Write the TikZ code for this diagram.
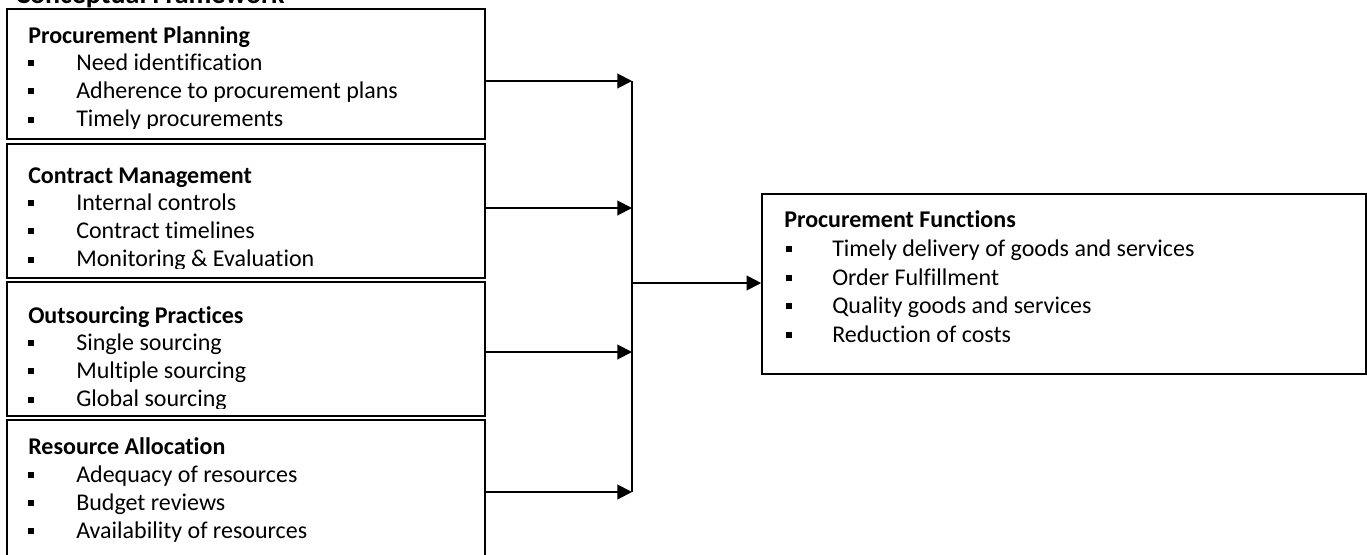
\documentclass[tikz,border=0pt]{standalone}
\usepackage{fontspec}
\setmainfont{Carlito}[Ligatures=NoCommon]
\usetikzlibrary{arrows.meta,fit}
\newcommand\bulw[1]{\makebox[#1][l]{\rule[3pt]{4.5pt}{4.5pt}}}
\begin{document}
\begin{tikzpicture}[x=0.75pt,y=-0.75pt,
  box/.style={draw, line width=1.2pt, inner sep=0pt},
  hd/.style={anchor=base west, inner sep=0pt, font=\fontsize{18}{22}\selectfont\bfseries},
  it/.style={anchor=base west, inner sep=0pt, font=\fontsize{18}{22}\selectfont},
  ttl/.style={anchor=base west, inner sep=0pt, font=\fontsize{21}{25}\selectfont\bfseries},
  conn/.style={line width=1.5pt},
  arr/.style={conn, -{Triangle[length=11pt,width=11pt]}}]
\useasboundingbox (0,0) rectangle (1367,554);

\node[ttl] (title) at (15,3) {Conceptual Framework};

% boxes
\node[box, fit={(7,9) (485,139)}] (b1) {};
\node[box, fit={(7,144) (485,278)}] (b2) {};
\node[box, fit={(7,282) (485,416)}] (b3) {};
\node[box, fit={(7,420) (485,600)}] (b4) {};
\node[box, fit={(762,194) (1366,374)}] (rf) {};

% box 1 text
\begin{scope}
\clip (7,9) rectangle (485,128);
\node[hd] (h1) at (28,43) {Procurement Planning};
\node[it] (i11) at (28,70) {\bulw{36pt}Need identification};
\node[it] (i12) at (28,98) {\bulw{36pt}Adherence to procurement plans};
\node[it] (i13) at (28,126.5) {\bulw{36pt}Timely procurements};
\end{scope}

% box 2 text
\begin{scope}
\clip (7,144) rectangle (485,268);
\node[hd] (h2) at (28,183) {Contract Management};
\node[it] (i21) at (28,210) {\bulw{36pt}Internal controls};
\node[it] (i22) at (28,238) {\bulw{36pt}Contract timelines};
\node[it] (i23) at (28,266.5) {\bulw{36pt}Monitoring \& Evaluation};
\end{scope}

% box 3 text
\begin{scope}
\clip (7,282) rectangle (485,408);
\node[hd] (h3) at (28,323) {Outsourcing Practices};
\node[it] (i31) at (28,350) {\bulw{36pt}Single sourcing};
\node[it] (i32) at (28,378) {\bulw{36pt}Multiple sourcing};
\node[it] (i33) at (28,406.5) {\bulw{36pt}Global sourcing};
\end{scope}

% box 4 text
\node[hd] (h4) at (28,454) {Resource Allocation};
\node[it] (i41) at (28,482) {\bulw{36pt}Adequacy of resources};
\node[it] (i42) at (28,510) {\bulw{36pt}Budget reviews};
\node[it] (i43) at (28,538) {\bulw{36pt}Availability of resources};

% right box text
\node[hd] (hr) at (784,227) {Procurement Functions};
\node[it] (r1) at (786,256) {\bulw{34.5pt}Timely delivery of goods and services};
\node[it] (r2) at (786,285) {\bulw{34.5pt}Order Fulfillment};
\node[it] (r3) at (786,313) {\bulw{34.5pt}Quality goods and services};
\node[it] (r4) at (786,342) {\bulw{34.5pt}Reduction of costs};

% connectors
\coordinate (j1) at (632,81);
\coordinate (j2) at (632,208);
\coordinate (j3) at (632,352);
\coordinate (j4) at (632,492);
\coordinate (m) at (632,283);
\draw[arr] (b1.east |- j1) -- (j1);
\draw[arr] (b2.east |- j2) -- (j2);
\draw[arr] (b3.east |- j3) -- (j3);
\draw[arr] (b4.east |- j4) -- (j4);
\draw[conn] (j1) -- (j4);
\draw[arr] (m) -- (rf.west |- m);
\end{tikzpicture}
\end{document}
